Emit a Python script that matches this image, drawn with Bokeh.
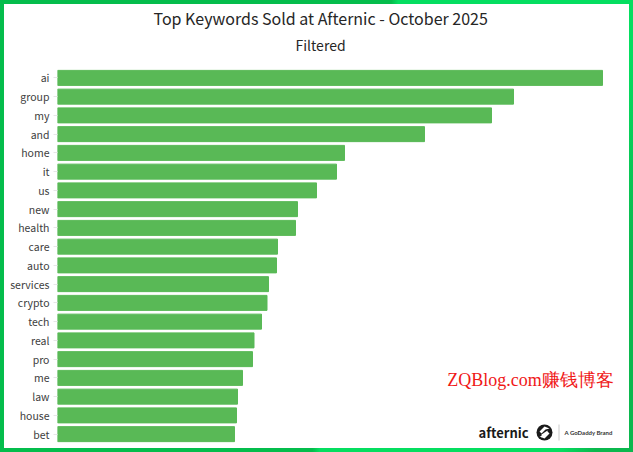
from bokeh.plotting import figure
from bokeh.models import Label, BoxAnnotation, Range1d, FactorRange, Title, PolyAnnotation
from bokeh.embed import file_html
from bokeh.resources import INLINE

keywords = ["ai","group","my","and","home","it","us","new","health","care","auto","services","crypto","tech","real","pro","me","law","house","bet"]
sold = [545,456,434,367,287,279,259,240,238,220,219,211,209.5,204,196.5,195,185,180,179,177]

FONT = "Noto Sans CJK SC"
FL, FB = 57, 443
p = figure(width=633, height=452, output_backend="svg", toolbar_location=None,
           y_range=FactorRange(*reversed(keywords), factor_padding=0, range_padding=0),
           x_range=Range1d(0, 568),
           min_border_left=53, min_border_right=12, min_border_top=64, min_border_bottom=13)
p.styles = {"position": "absolute", "left": "0px", "top": "0px",
            "border": "4px solid", "border-image": "linear-gradient(100deg,#04bd4c 55%,#05de60 56%,#05de60 90%,#0bb84e 95%) 1"}
p.border_fill_color = "#ffffff"
p.background_fill_color = None
p.outline_line_color = None
p.grid.visible = False
p.xaxis.visible = False

def title(t, size, standoff, left):
    tt = Title(text=t, text_font=FONT, text_font_size=size, text_font_style="normal",
               text_color="#262626", align="left", offset=left - FL, standoff=standoff)
    p.add_layout(tt, "above")

title("Filtered", "14px", 27, 295)
title("Top Keywords Sold at Afternic - October 2025", "16px", -21, 153)

p.hbar(y=keywords, right=sold, left=0, height=0.8, color="#59b956")

ax = p.yaxis[0]
ax.axis_line_color = None
ax.major_tick_line_color = "#e6e6e6"
ax.major_tick_out = 4
ax.major_tick_in = 0
ax.minor_tick_line_color = None
ax.major_label_standoff = 4
ax.major_label_text_font = FONT
ax.major_label_text_font_size = "10.5px"
ax.major_label_text_color = "#404040"

def lab(x, y, t, size, color="#262626", font=FONT, align="center", style="normal"):
    p.add_layout(Label(x=x - FL, y=FB - y, x_units="screen", y_units="screen", text=t, text_font=font,
                       text_font_size=size, text_color=color, text_align=align,
                       text_baseline="middle", text_font_style=style))

lab(530, 379, "ZQBlog.com赚钱博客", "18px", "#f01818", "Liberation Serif")
lab(478, 432, "afternic", "13px", "#1a1a1a", FONT, "left", "bold")
lab(564, 432, "A GoDaddy Brand", "6px", "#333333", "Lato", "left", "bold")

def box(l, r, t, b, c, rad=0):
    p.add_layout(BoxAnnotation(left=l - FL, right=r - FL, top=FB - t, bottom=FB - b,
                               left_units="screen", right_units="screen", top_units="screen", bottom_units="screen",
                               fill_color=c, fill_alpha=1, line_color=None, border_radius=rad))

def poly(pts, c):
    p.add_layout(PolyAnnotation(xs=[a - FL for a, b in pts], ys=[FB - b for a, b in pts],
                                xs_units="screen", ys_units="screen",
                                fill_color=c, fill_alpha=1, line_color=None))

box(558, 559, 424, 440, "#cccccc")
box(536, 552, 424, 440, "#1a1a1a", 8)
poly([(539, 431), (544, 426), (549, 428), (545, 429), (541, 433)], "#ffffff")
poly([(549, 433), (544, 438), (539, 436), (543, 435), (547, 431)], "#ffffff")
poly([(541, 434), (547, 430), (547, 434), (541, 437)], "#ffffff")

open("out.html", "w").write(file_html(p, INLINE))
